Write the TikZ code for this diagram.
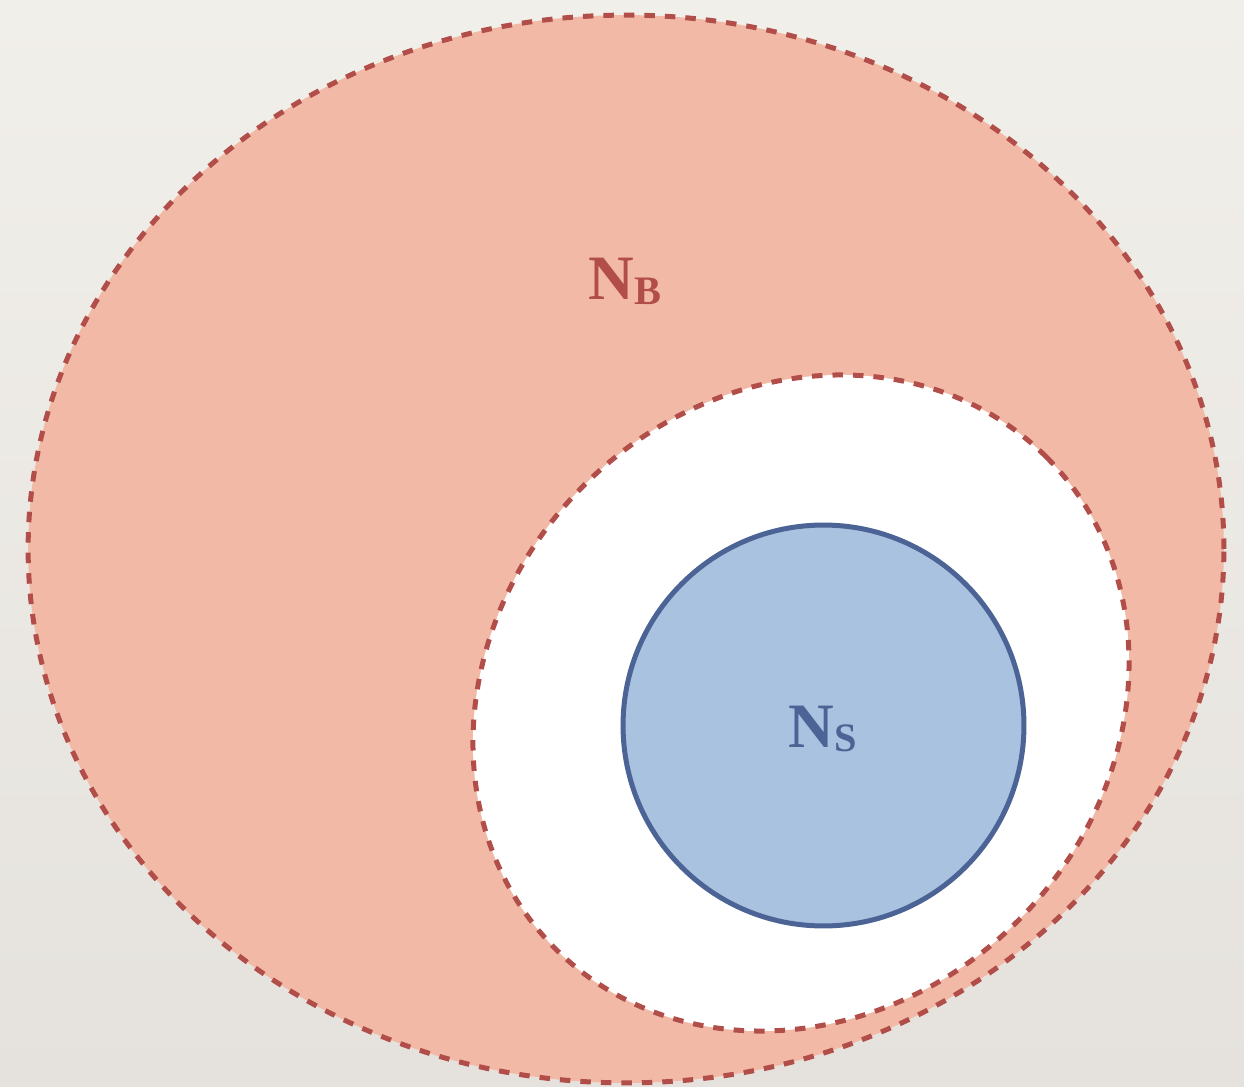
\documentclass[tikz,border=0pt]{standalone}
\usepackage{fontspec}
\setmainfont{Liberation Serif}
\definecolor{paper}{HTML}{F1EFEA}
\definecolor{paperlow}{HTML}{E5E2DD}
\definecolor{salmon}{HTML}{F2BAA6}
\definecolor{brick}{HTML}{B24E4A}
\definecolor{skyblue}{HTML}{A9C2DF}
\definecolor{navy}{HTML}{4B6495}

\begin{document}
\begin{tikzpicture}[x=0.02cm, y=-0.02cm]
    \shade[top color=paper, bottom color=paperlow] (0, 0) rectangle (1244, 1087);
    \useasboundingbox (0, 0) rectangle (1244, 1087);

    \fill[salmon] (626, 549) ellipse [x radius=11.96cm, y radius=10.68cm];
    \fill[white, rotate around={45:(801, 703)}] (801, 703) ellipse [x radius=6.95cm, y radius=6.15cm];
    \draw[brick, line width=0.1cm, dash pattern=on 0.21cm off 0.2cm, rotate around={45:(801, 703)}] (801, 703) ellipse [x radius=6.95cm, y radius=6.15cm];
    \draw[brick, line width=0.1cm, dash pattern=on 0.21cm off 0.2cm] (626, 549) ellipse [x radius=11.96cm, y radius=10.68cm];

    \draw[navy, fill=skyblue, line width=0.1cm] (823.5, 725.5) circle [radius=4.01cm];

    \node[anchor=base, text=brick, inner sep=0pt] (nb) at (625, 300) {\fontsize{36}{40}\selectfont\bfseries N\raisebox{-2.8pt}{\fontsize{23}{24}\selectfont B}};
    \node[anchor=base, text=navy, inner sep=0pt] (ns) at (823, 747) {\fontsize{36}{40}\selectfont\bfseries N\raisebox{-2.8pt}{\fontsize{23}{24}\selectfont S}};
\end{tikzpicture}
\end{document}
